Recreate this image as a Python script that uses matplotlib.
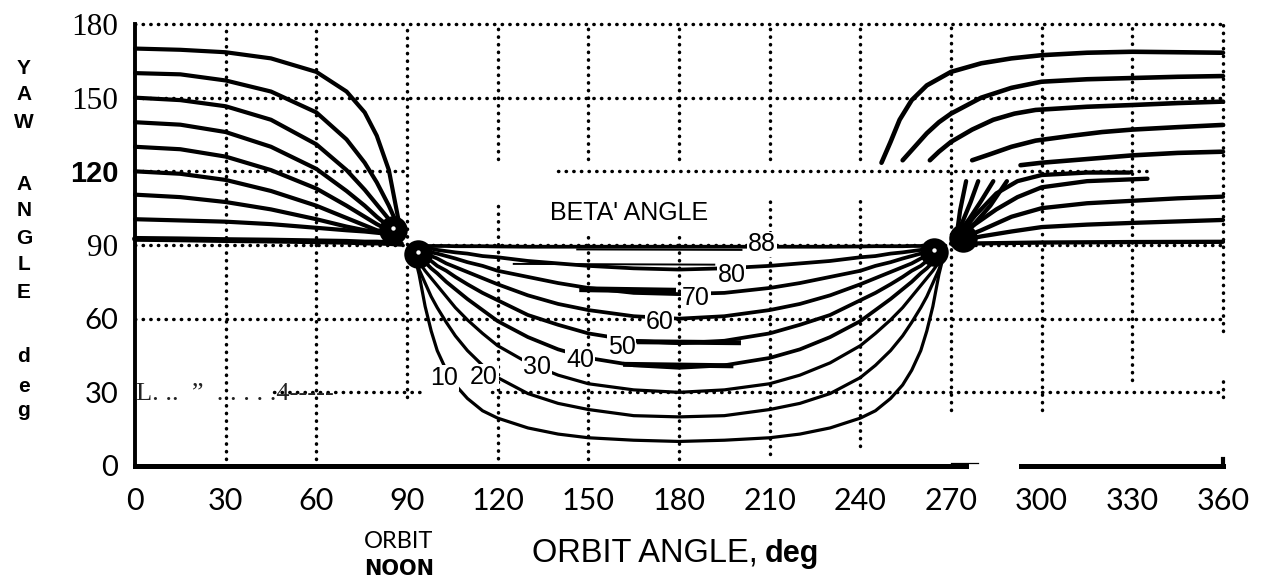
import matplotlib
matplotlib.use('Agg')
import matplotlib.pyplot as plt

# ---- data ----
betas = [10, 20, 30, 40, 50, 60, 70, 80, 88]

# morning side, orbit angle 0 .. noon
left_x = [0, 15, 30, 45, 60, 70, 76, 80, 84, 88]
yaw_left = [
    [170, 169.5, 168.5, 166, 160.5, 152.5, 144, 134.5, 120.5, 95],
    [160, 159.5, 157, 152.5, 144, 133, 123.5, 115.5, 106, 95],
    [150, 149, 146.5, 141, 131, 120.5, 112.5, 106.5, 100.5, 95],
    [140, 139, 136, 130, 121, 112, 106, 101.5, 97.5, 95],
    [130, 129, 126, 120.5, 113, 106, 101.5, 98.5, 96, 95],
    [120, 119, 116.5, 112, 106, 101, 98, 96, 95, 94.5],
    [110.5, 109.5, 107.5, 104.5, 100.5, 97.5, 96, 95.5, 95, 94.5],
    [100.5, 100, 99.5, 98.5, 97, 96, 95.5, 95, 94.5, 94.5],
    [92.5, 92.3, 92, 91.8, 91.5, 91.3, 91, 91, 90.8, 90.5],
]

# between the two crossings of 90 deg
mid_x = [92, 94, 96, 98, 100, 103, 106, 110, 115, 120, 130, 140, 150, 165, 180,
         195, 210, 220, 230, 240, 245, 250, 254, 257, 260, 262, 264, 266, 268]
yaw_mid = [
    [88, 78, 65, 55, 47, 39, 33, 27.5, 22.5, 19.5, 15.5, 13, 11.5, 10.5, 10,
     10.5, 11.5, 13, 15.5, 19.5, 22.5, 27.5, 33, 39, 47, 55, 65, 78, 88],
    [87.5, 80, 74.5, 69, 64.5, 58.5, 53, 47, 41, 36, 29.5, 25.5, 23, 20.5, 20,
     20.5, 23, 25.5, 29.5, 36, 41, 47, 53, 58.5, 64.5, 69, 74.5, 80, 87.5],
    [87.5, 83, 79.5, 76.5, 73.5, 69, 64.5, 59.5, 54, 49, 42, 37, 33.5, 31, 30,
     31, 33.5, 37, 42, 49, 54, 59.5, 64.5, 69, 73.5, 76.5, 79.5, 83, 87.5],
    [87.5, 85, 83, 80.5, 78.5, 75, 72, 68, 63.5, 59, 52.5, 47.5, 44, 41, 40,
     41, 44, 47.5, 52.5, 59, 63.5, 68, 72, 75, 78.5, 80.5, 83, 85, 87.5],
    [87.5, 86.5, 85, 83.5, 81.5, 79.5, 77, 74, 70.5, 67.5, 61.5, 57.5, 54, 51, 50,
     51, 54, 57.5, 61.5, 67.5, 70.5, 74, 77, 79.5, 81.5, 83.5, 85, 86.5, 87.5],
    [88, 87.5, 86.5, 85.5, 84.5, 82.5, 81, 79, 76.5, 74, 69.5, 66, 63.5, 61, 60,
     61, 63.5, 66, 69.5, 74, 76.5, 79, 81, 82.5, 84.5, 85.5, 86.5, 87.5, 88],
    [88.5, 88.5, 88, 87, 86.5, 85.5, 84.5, 83, 81.5, 79.5, 77, 74.5, 72.5, 70.5, 70,
     70.5, 72.5, 74.5, 77, 79.5, 81.5, 83, 84.5, 85.5, 86.5, 87, 88, 88.5, 88.5],
    [88.5, 89, 89, 88.5, 88, 87.5, 87, 86.5, 85.5, 85, 83.5, 82.5, 81.5, 80.5, 80,
     80.5, 81.5, 82.5, 83.5, 85, 85.5, 86.5, 87, 87.5, 88, 88.5, 89, 89, 88.5],
    [89, 89.5, 89.6, 89.6, 89.6, 89.6, 89.5, 89.5, 89.5, 89.4, 89.3, 89.3, 89.3, 89.3, 89.3,
     89.3, 89.3, 89.3, 89.3, 89.4, 89.5, 89.5, 89.5, 89.6, 89.6, 89.6, 89.6, 89.5, 89],
]

# evening side: short strokes out of the 270 deg hub (below the splice) ...
right_lo_x = [
    [272, 273, 274, 275],
    [272, 274, 276.5, 279],
    [272, 276, 280, 284],
    [272, 278, 283, 288.5],
    [272, 278, 285, 292, 300, 315, 329],
    [272, 278, 285, 292, 300, 315, 335],
    [272, 280, 290, 300, 315, 330, 345, 360],
    [272, 280, 290, 300, 315, 330, 345, 360],
    [270, 300, 330, 360],
]
right_lo_y = [
    [95, 104, 110, 116],
    [94.5, 100, 107.5, 116],
    [94, 100.5, 108, 116],
    [93.5, 99, 106, 116],
    [93, 102, 111, 116, 118.5, 119.5, 119.5],
    [92.5, 98.5, 104.5, 109.5, 113.5, 116, 117],
    [92, 96, 101.5, 105, 107, 108, 109, 109.7],
    [91.5, 93.5, 95.5, 97.3, 98.3, 99, 99.6, 100.2],
    [90.5, 91, 91.2, 91.3],
]
# ... and the upper pieces (above the splice), beta 10..50
right_up_x = [
    [247, 250, 253, 257, 262, 270, 280, 290, 300, 315, 330, 345, 360],
    [254, 258, 262, 266, 270, 280, 290, 300, 315, 330, 345, 360],
    [263, 266, 270, 277, 284, 291, 298, 315, 330, 345, 360],
    [277, 283, 290, 298, 310, 320, 330, 345, 360],
    [293, 300, 310, 320, 330, 345, 360],
]
right_up_y = [
    [123.5, 132, 141, 149, 155, 160.5, 164, 166, 167.3, 168.3, 168.7, 168.5, 168.3],
    [124.5, 130, 135.5, 140, 143.5, 150, 154, 156.5, 157.5, 158, 158.5, 158.8],
    [124.5, 128, 132, 137, 141, 143.5, 145, 146.3, 147, 147.8, 148.4],
    [124.5, 127, 130, 132.5, 134.5, 136, 137, 138, 138.9],
    [122.5, 123.5, 124.5, 125.5, 126.5, 127.5, 128],
]

# retouched straight strokes near the minima
seg_x = [[125, 192], [146, 201], [147, 179], [166, 200.5], [161.5, 198]]
seg_y = [[82.3, 82.0], [88.2, 88.0], [72.0, 71.4], [50.6, 50.2], [41.4, 40.8]]
seg_w = [1.4, 1.4, 4.2, 3.6, 3.6]

# hubs where the curves meet
hub_x = [85.5, 93.5, 264.5, 274]
hub_y = [96, 86.5, 87, 93]

# beta' labels on the curves
lab_x = [102.2, 115.5, 133.0, 147.3, 161.0, 173.5, 185.6, 197.4, 207.4]
lab_y = [35.8, 36.4, 40.4, 43.2, 48.6, 58.8, 68.6, 77.8, 90.3]

xticks = list(range(0, 361, 30))
yticks = list(range(0, 181, 30))

# dotted grid pieces (as printed)
vgrid = [(30, 3, 180), (60, 3, 180), (90, 28, 180),
         (120, 0, 108), (120, 125, 180), (150, 3, 95), (150, 125, 180),
         (180, 3, 96), (180, 125, 180), (210, 5, 108), (210, 125, 180),
         (240, 8, 108), (240, 125, 180), (270, 23, 180), (300, 23, 180),
         (330, 35, 180), (360, 28, 36), (360, 55, 180)]
hgrid = [(180, 0, 360), (150, 0, 360), (120, 0, 89), (120, 140, 335),
         (90, 0, 360), (60, 0, 360), (30, 46, 95), (30, 118, 360)]

# ---- drawing ----
fig = plt.figure(figsize=(12.63, 5.82), dpi=100)
ax = fig.add_axes([135 / 1263, 1 - 466 / 582, 1088 / 1263, 442 / 582])
ax.set_xlim(0, 360)
ax.set_ylim(0, 180)
for s in ax.spines.values():
    s.set_visible(False)

dot = dict(color='black', lw=2.5, linestyle=(0, (0.1, 2.1)),
           dash_capstyle='round', zorder=1, clip_on=False)
for x, y0, y1 in vgrid:
    ax.plot([x, x], [y0, y1], **dot)
for y, x0, x1 in hgrid:
    ax.plot([x0, x1], [y, y], **dot)

# frame: heavy left and bottom edges
ax.plot([0, 0], [0, 180], color='black', lw=2.8, zorder=2, clip_on=False)
ax.plot([0, 275], [0, 0], color='black', lw=3.6, zorder=2, clip_on=False)
ax.plot([293, 360], [0, 0], color='black', lw=3.6, zorder=2, clip_on=False)
ax.plot([270, 279], [1.3, 1.3], color='black', lw=0.9, zorder=2, clip_on=False)
ax.plot([360, 360], [0, 3], color='black', lw=3, zorder=2, clip_on=False)

line = dict(color='black', solid_capstyle='round', solid_joinstyle='round',
            zorder=3, clip_on=False)
for i, b in enumerate(betas):
    ax.plot(left_x, yaw_left[i], lw=4.2 if b == 88 else 3.0, **line)
    ax.plot(mid_x, yaw_mid[i], lw=2.3 if b <= 30 else 2.7, **line)
    ax.plot(right_lo_x[i], right_lo_y[i], lw=3.1, **line)
for xs, ys in zip(right_up_x, right_up_y):
    ax.plot(xs, ys, lw=3.3, **line)
for xs, ys, w in zip(seg_x, seg_y, seg_w):
    ax.plot(xs, ys, lw=w, color='black', solid_capstyle='butt', zorder=3)

ax.scatter(hub_x, hub_y, s=420, color='black', zorder=4, linewidths=0)
ax.scatter(hub_x[:3], [y + 0.8 for y in hub_y[:3]], s=10, color='white',
           zorder=4, linewidths=0)

for b, x, y in zip(betas, lab_x, lab_y):
    ax.text(x, y, str(b), ha='center', va='center', fontsize=18,
            family='Liberation Sans', zorder=5,
            bbox=dict(facecolor='white', edgecolor='none', pad=0.5))
ax.text(163.5, 103, "BETA' ANGLE", ha='center', va='center', fontsize=18,
        family='Liberation Sans', zorder=5)

# scanner garbage on the 30 deg line
ax.text(0.3, 27.0, 'L. ..  \u201d  . . . . .4-----', ha='left', va='baseline',
        fontsize=19, family='Liberation Serif', color='#222222', zorder=2)

# ticks
ax.set_xticks(xticks)
ax.set_xticklabels([str(v) for v in xticks])
ax.set_yticks(yticks)
ax.set_yticklabels([str(v) for v in yticks])
ax.tick_params(axis='both', length=0)
ax.tick_params(axis='x', pad=15)
ax.tick_params(axis='y', pad=12)
for lab in ax.get_xticklabels():
    lab.set_fontfamily('Lato')
    lab.set_fontweight('normal')
    lab.set_fontsize(22)
yfam = ['Lato', 'Lato', 'Lato', 'Liberation Serif', 'Liberation Sans',
        'Liberation Serif', 'Liberation Serif']
ywt = ['normal', 'normal', 'normal', 'normal', 'bold', 'normal', 'normal']
ysz = [21, 21, 21, 22.5, 21, 22.5, 22.5]
for lab, fam, wt, sz in zip(ax.get_yticklabels(), yfam, ywt, ysz):
    lab.set_fontfamily(fam)
    lab.set_fontweight(wt)
    lab.set_fontsize(sz)

# axis titles
fig.text(758 / 1263, 1 - 562 / 582, 'ORBIT ANGLE,', ha='right', va='baseline',
         fontsize=23.5, family=['Liberation Sans Narrow', 'Liberation Sans'])
fig.text(765 / 1263, 1 - 562 / 582, 'deg', ha='left', va='baseline',
         fontsize=22, fontweight='bold',
         family=['Liberation Sans Narrow', 'Liberation Sans'])
fig.text(399 / 1263, 1 - 548 / 582, 'ORBIT', ha='center', va='baseline',
         fontsize=17, family='Lato')
fig.text(399 / 1263, 1 - 575 / 582, 'NOON', ha='center', va='baseline',
         fontsize=15, family='DejaVu Sans', fontweight='bold')

ylab = ['Y', 'A', 'W', 'A', 'N', 'G', 'L', 'E', 'd', 'e', 'g']
ylab_px = [68, 95, 122, 184, 211, 238, 265, 292, 357, 386, 411]
for ch, py in zip(ylab, ylab_px):
    fig.text(24 / 1263, 1 - py / 582, ch, ha='center', va='center',
             fontsize=15, family='Liberation Sans', fontweight='bold')

fig.savefig('out.png', dpi=100, facecolor='white')
